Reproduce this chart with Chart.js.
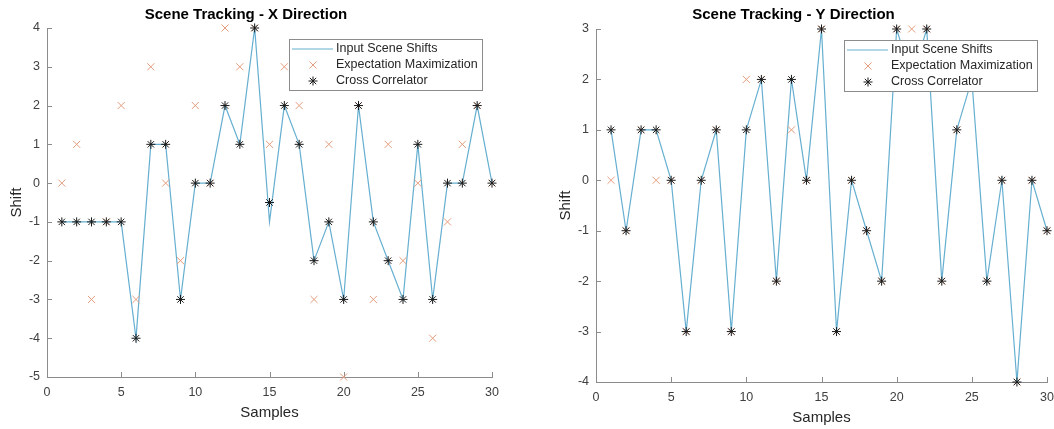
<!DOCTYPE html>
<html>
<head>
<meta charset="utf-8">
<script src="https://cdn.jsdelivr.net/npm/chart.js@4/dist/chart.umd.min.js"></script>
<style>
  html, body { margin: 0; padding: 0; background: #fff; }
  body { width: 1054px; height: 429px; position: relative; overflow: hidden; }
  .plot { position: absolute; top: 0; }
  #boxX { left: 0; width: 540px; height: 429px; }
  #boxY { left: 540px; width: 514px; height: 429px; }
</style>
</head>
<body>
<div class="plot" id="boxX"><canvas id="chartX"></canvas></div>
<div class="plot" id="boxY"><canvas id="chartY"></canvas></div>
<script>
// sample index on the x axis
var samples = [1,2,3,4,5,6,7,8,9,10,11,12,13,14,15,16,17,18,19,20,21,22,23,24,25,26,27,28,29,30];

// X direction
var inputX = [-1,-1,-1,-1,-1,-4,1,1,-3,0,0,2,1,4,-1,2,1,-2,-1,-3,2,-1,-2,-3,1,-3,0,0,2,0];
var emX    = [0,1,-3,-1,2,-3,3,0,-2,2,0,4,3,4,1,3,2,-3,1,-5,2,-3,1,-2,0,-4,-1,1,2,0];
var ccX    = [-1,-1,-1,-1,-1,-4,1,1,-3,0,0,2,1,4,-0.5,2,1,-2,-1,-3,2,-1,-2,-3,1,-3,0,0,2,0];

// Y direction
var inputY = [1,-1,1,1,0,-3,0,1,-3,1,2,-2,2,0,3,-3,0,-1,-2,3,2,3,-2,1,2,-2,0,-4,0,-1];
var emY    = [0,-1,1,0,0,-3,0,1,-3,2,2,-2,1,0,3,-3,0,-1,-2,3,3,3,-2,1,2,-2,0,-4,0,-1];
var ccY    = [1,-1,1,1,0,-3,0,1,-3,1,2,-2,2,0,3,-3,0,-1,-2,3,2,3,-2,1,2,-2,0,-4,0,-1];

var xTicks = [0,5,10,15,20,25,30];
var seriesNames = ['Input Scene Shifts', 'Expectation Maximization', 'Cross Correlator'];

var LINE_COLOR = '#66afd0';
var EM_COLOR = '#e49c7c';
var CC_COLOR = '#1a1a1a';
var AXIS_COLOR = '#8c8c8c';
var FONT = '"Liberation Sans", Arial, sans-serif';

Chart.defaults.font.family = FONT;
Chart.defaults.color = '#404040';

function toPoints(vals) {
    return samples.map(function(s, i) { return {x: s, y: vals[i]}; });
}

// MATLAB style ticks pointing into the plot
var inwardTicks = {
    id: 'inwardTicks',
    beforeDatasetsDraw: function(chart) {
        var ctx = chart.ctx;
        var a = chart.chartArea;
        ctx.save();
        ctx.strokeStyle = AXIS_COLOR;
        ctx.lineWidth = 1;
        ctx.beginPath();
        chart.scales.x.ticks.forEach(function(t) {
            var px = Math.round(chart.scales.x.getPixelForValue(t.value)) + 0.5;
            ctx.moveTo(px, a.bottom);
            ctx.lineTo(px, a.bottom - 5);
        });
        chart.scales.y.ticks.forEach(function(t) {
            var py = Math.round(chart.scales.y.getPixelForValue(t.value)) + 0.5;
            ctx.moveTo(a.left, py);
            ctx.lineTo(a.left + 5, py);
        });
        ctx.stroke();
        ctx.restore();
    }
};

// opaque legend box in the upper right, drawn over the data
var boxLegend = {
    id: 'boxLegend',
    afterDraw: function(chart) {
        var ctx = chart.ctx;
        var a = chart.chartArea;
        var w = 193, h = 51;
        var left = a.right - 10 - w;
        var top = a.top + 11;
        ctx.save();
        ctx.fillStyle = '#fff';
        ctx.fillRect(left, top, w, h);
        ctx.strokeStyle = AXIS_COLOR;
        ctx.lineWidth = 1;
        ctx.strokeRect(Math.round(left) + 0.5, Math.round(top) + 0.5, w, h);
        ctx.font = '12.5px ' + FONT;
        ctx.textBaseline = 'middle';
        var rows = [top + 10, top + 26, top + 42];
        chart.data.datasets.forEach(function(ds, i) {
            var ry = rows[i];
            if (ds.showLine !== false) {
                ctx.strokeStyle = ds.borderColor;
                ctx.lineWidth = ds.borderWidth;
                ctx.beginPath();
                ctx.moveTo(left + 3, ry);
                ctx.lineTo(left + 44, ry);
                ctx.stroke();
            } else {
                ctx.strokeStyle = ds.pointBorderColor;
                ctx.fillStyle = ds.pointBorderColor;
                ctx.lineWidth = ds.pointBorderWidth;
                Chart.helpers.drawPoint(ctx, {
                    pointStyle: ds.pointStyle,
                    radius: ds.pointRadius,
                    borderWidth: ds.pointBorderWidth,
                    rotation: 0
                }, left + 24, ry);
            }
            ctx.fillStyle = '#262626';
            ctx.fillText(ds.label, left + 47, ry);
        });
        ctx.restore();
    }
};

function makeChart(id, title, inp, em, cc, yMin, yMax, dims) {
    var ctx = document.getElementById(id).getContext('2d');
    return new Chart(ctx, {
        type: 'line',
        data: {
            datasets: [{
                label: seriesNames[0],
                data: toPoints(inp),
                borderColor: LINE_COLOR,
                borderWidth: 1.2,
                pointRadius: 0,
                tension: 0,
                clip: false,
                order: 2
            }, {
                label: seriesNames[1],
                data: toPoints(em),
                showLine: false,
                pointStyle: 'crossRot',
                pointRadius: 5,
                pointBorderWidth: 1,
                pointBorderColor: EM_COLOR,
                pointBackgroundColor: EM_COLOR,
                clip: false,
                order: 1
            }, {
                label: seriesNames[2],
                data: toPoints(cc),
                showLine: false,
                pointStyle: 'star',
                pointRadius: 4.5,
                pointBorderWidth: 1,
                pointBorderColor: CC_COLOR,
                pointBackgroundColor: CC_COLOR,
                clip: false,
                order: 0
            }]
        },
        options: {
            responsive: true,
            maintainAspectRatio: false,
            animation: false,
            events: [],
            layout: { padding: { left: 0, right: dims.padRight, top: 0, bottom: 0 } },
            plugins: {
                legend: { display: false },
                tooltip: { enabled: false },
                title: {
                    display: true,
                    text: title,
                    color: '#000',
                    font: { size: 15, weight: 'bold' },
                    padding: { top: 6, bottom: dims.titleBottom }
                }
            },
            scales: {
                x: {
                    type: 'linear',
                    min: 0,
                    max: 30,
                    afterBuildTicks: function(scale) {
                        scale.ticks = xTicks.map(function(v) { return {value: v}; });
                    },
                    afterFit: function(scale) {
                        scale.height = dims.xHeight;
                        scale.paddingLeft = 0;
                        scale.paddingRight = 0;
                    },
                    grid: { display: false, drawTicks: false },
                    border: { display: true, color: AXIS_COLOR, width: 1 },
                    ticks: { padding: 8, font: { size: 12.5 }, maxRotation: 0 },
                    title: {
                        display: true,
                        text: 'Samples',
                        color: '#262626',
                        font: { size: 15 },
                        padding: { top: 0, bottom: dims.xTitleBottom }
                    }
                },
                y: {
                    type: 'linear',
                    min: yMin,
                    max: yMax,
                    afterFit: function(scale) {
                        scale.width = dims.yWidth;
                    },
                    grid: { display: false, drawTicks: false },
                    border: { display: true, color: AXIS_COLOR, width: 1 },
                    ticks: { stepSize: 1, padding: 7, font: { size: 12.5 } },
                    title: {
                        display: true,
                        text: 'Shift',
                        color: '#262626',
                        font: { size: 15 },
                        padding: { top: dims.yTitleTop, bottom: 0 }
                    }
                }
            }
        },
        plugins: [inwardTicks, boxLegend]
    });
}

makeChart('chartX', 'Scene Tracking - X Direction', inputX, emX, ccX, -5, 4,
    { padRight: 48, titleBottom: 4, xHeight: 52, yWidth: 47, xTitleBottom: 7, yTitleTop: 8 });
makeChart('chartY', 'Scene Tracking - Y Direction', inputY, emY, ccY, -4, 3,
    { padRight: 7, titleBottom: 5, xHeight: 47, yWidth: 56, xTitleBottom: 2, yTitleTop: 17 });
</script>
</body>
</html>
